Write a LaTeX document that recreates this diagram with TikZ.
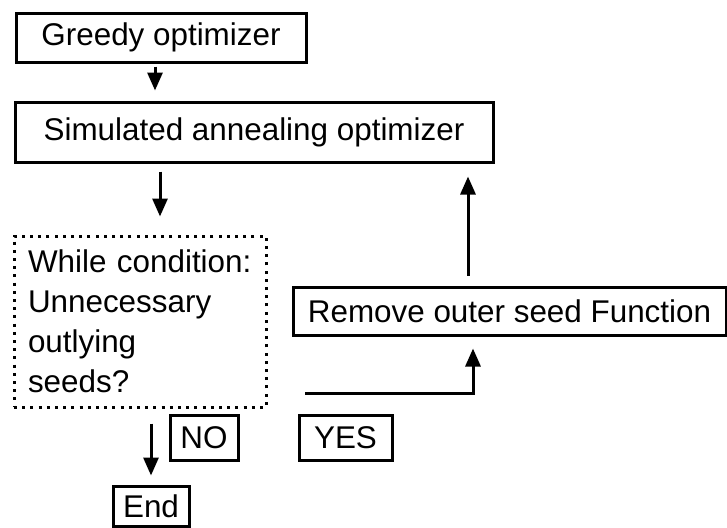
\documentclass[tikz,border=0pt]{standalone}
\usepackage{fontspec}
\setmainfont{Liberation Sans}
\usetikzlibrary{arrows.meta,calc}

\begin{document}
\begin{tikzpicture}[x=0.5pt, y=-0.5pt,
    box/.style={draw, line width=1.5pt, inner sep=0pt, font=\fontsize{15.7}{20}\selectfont},
    condbox/.style={draw, line width=1.5pt, dash pattern=on 1.5pt off 2.6pt, inner sep=0pt,
        font=\fontsize{15.7}{20}\selectfont, align=left, text width=112pt},
    arrow/.style={-{Triangle[length=9pt, width=7.5pt]}, line width=1.5pt},
]
\useasboundingbox (0,0) rectangle (727,527);

% Main boxes
\node[box, minimum width=145pt, minimum height=24.5pt] (greedy) at (161,37.5) {Greedy optimizer};
\node[box, minimum width=239pt, minimum height=30pt] (simul) at (254,132) {Simulated annealing optimizer};
\node[condbox, minimum width=126pt, minimum height=85.5pt] (cond) at (140,321.5)
    {While condition:\\Unnecessary\\outlying\\seeds?};
\node[box, minimum width=216.5pt, minimum height=24pt] (remove) at (509.5,311) {Remove outer seed Function};

% Answers
\node[box, minimum width=34pt, minimum height=22.5pt] (no) at (204,437.5) {NO};
\node[box, minimum width=46.5pt, minimum height=22.5pt] (yes) at (345.5,437.5) {YES};
\node[box, minimum width=38pt, minimum height=20pt] (endbox) at (151,506) {End};

\coordinate (loopstart) at (305,393);

% Arrows
\draw[arrow, shorten <=1.5pt, shorten >=5pt] ([xshift=-3pt]greedy.south) -- ([xshift=-3pt]greedy.south |- simul.north);
\draw[arrow, shorten <=4pt, shorten >=9pt] ([xshift=10pt]cond.north |- simul.south) -- ([xshift=10pt]cond.north);
\draw[arrow, shorten <=5pt, shorten >=6.5pt] ([xshift=-20.75pt]remove.north) -- ([xshift=-20.75pt]remove.north |- simul.south);
\draw[arrow, shorten >=6pt] (loopstart) -| ([xshift=-18.25pt]remove.south);
\draw[arrow, shorten <=7.5pt, shorten >=4.5pt] (endbox.north |- cond.south) -- (endbox.north);
\end{tikzpicture}
\end{document}
